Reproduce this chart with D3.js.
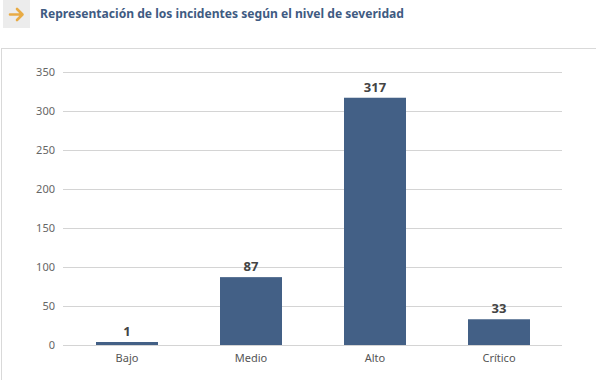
<!DOCTYPE html>
<html><head><meta charset="utf-8">
<script src="https://cdn.jsdelivr.net/npm/d3@7"></script>
<style>
body{margin:0;background:#fff;}
svg{display:block;font-family:"Noto Sans","Open Sans",sans-serif;}
</style></head>
<body>
<svg id="c" width="596" height="380"></svg>
<script>
const title = "Representación de los incidentes según el nivel de severidad";
const categories = ["Bajo","Medio","Alto","Crítico"];
const values = [1,87,317,33];
const yTicks = [0,50,100,150,200,250,300,350];

const svg = d3.select("#c");
// header
svg.append("rect").attr("x",3).attr("y",0).attr("width",27).attr("height",28).attr("fill","#ececec");
svg.append("path").attr("d","M10,14.5H22M17,9L22.5,14.5L17,20")
  .attr("fill","none").attr("stroke","#e8ab45").attr("stroke-width",2.6)
  .attr("stroke-linecap","round").attr("stroke-linejoin","round");
svg.append("text").attr("x",40).attr("y",18).attr("font-size",12.6).attr("font-weight","bold")
  .attr("font-family","'Noto Sans',sans-serif")
  .attr("textLength",364).attr("lengthAdjust","spacingAndGlyphs")
  .attr("fill","#3f5b82").text(title);
// frame
svg.append("rect").attr("x",1.5).attr("y",48.5).attr("width",600).attr("height",340)
  .attr("fill","none").attr("stroke","#d9d9d9");

const x = d3.scaleBand().domain(categories).range([65,561]).paddingInner(0.5).paddingOuter(0.25);
const y = d3.scaleLinear().domain([0,350]).range([345,72]);

const gy = svg.append("g").attr("transform","translate(63,0)")
  .call(d3.axisLeft(y).tickValues(yTicks).tickSize(-499).tickPadding(8));
gy.select(".domain").remove();
gy.selectAll("line").attr("stroke","#d4d4d4").attr("stroke-width",1);
gy.selectAll("text").attr("fill","#666").attr("font-size",11).attr("font-family","'Noto Sans',sans-serif");

const barTop = d => Math.min(y(d), y(0) - 3);
svg.selectAll("rect.bar").data(values).join("rect").attr("class","bar")
  .attr("x",(d,i)=>x(categories[i])).attr("width",x.bandwidth())
  .attr("y",d=>barTop(d)).attr("height",d=>y(0)-barTop(d)).attr("fill","#436086");

svg.selectAll("text.val").data(values).join("text").attr("class","val")
  .attr("x",(d,i)=>x(categories[i])+x.bandwidth()/2).attr("y",d=>barTop(d)-6)
  .attr("text-anchor","middle").attr("font-size",13).attr("font-weight","bold").attr("fill","#444").text(d=>d);

const gx = svg.append("g").attr("transform","translate(0,345)")
  .call(d3.axisBottom(x).tickSize(0).tickPadding(9));
gx.select(".domain").remove();
gx.selectAll("text").attr("fill","#555").attr("font-size",11).attr("font-family","'Noto Sans',sans-serif");
</script>
</body></html>
